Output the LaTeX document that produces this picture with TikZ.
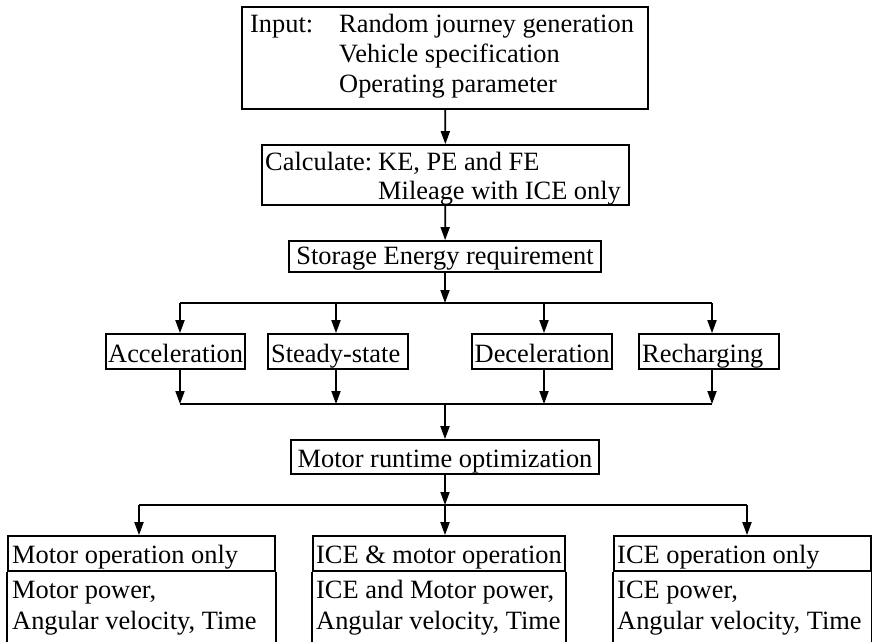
\documentclass[tikz,border=0pt]{standalone}
\usepackage{fontspec}
\setmainfont{Liberation Serif}
\usetikzlibrary{arrows.meta}
\begin{document}
\begin{tikzpicture}[x=1pt,y=-1pt,
  txt/.style={font=\fontsize{26.4pt}{30pt}\selectfont, inner sep=0pt},
  box/.style={draw, line width=1.7pt, inner sep=0pt},
  ln/.style={line width=1.8pt},
  arr/.style={line width=1.8pt, -{Triangle[length=13pt,width=9pt]}}]
\useasboundingbox (0,0) rectangle (872,641);
% boxes
\node[box, minimum width=406pt, minimum height=102pt] (top) at (445,58) {};
\node[box, minimum width=367pt, minimum height=60pt] (calc) at (445.5,175) {};
\node[box, minimum width=312pt, minimum height=31pt] (stor) at (445,256.5) {};
\node[box, minimum width=139pt, minimum height=35pt] (acc) at (175.5,351.5) {};
\node[box, minimum width=140pt, minimum height=35pt] (ste) at (338,351.5) {};
\node[box, minimum width=140pt, minimum height=35pt] (dec) at (542,351.5) {};
\node[box, minimum width=140pt, minimum height=35pt] (rec) at (709,351.5) {};
\node[box, minimum width=308pt, minimum height=34pt] (mot) at (445,457) {};
\node[box, minimum width=267pt, minimum height=35pt] (h1) at (141.5,553.5) {};
\node[box, minimum width=252pt, minimum height=35pt] (h2) at (439,553.5) {};
\node[box, minimum width=257pt, minimum height=35pt] (h3) at (742.5,553.5) {};
\draw[box] (h1.south west) -- ++(0,75);
\draw[box] (h1.south east) -- ++(0,75);
\draw[box] (h2.south west) -- ++(0,75);
\draw[box] (h2.south east) -- ++(0,75);
\draw[box] (h3.south west) -- ++(0,75);
\draw[box] (h3.south east) -- ++(0,75);
% texts
\node[txt, anchor=base west] (t1) at (250,32) {Input:};
\node[txt, anchor=base west] (t2) at (339,32) {Random journey generation};
\node[txt, anchor=base west] (t3) at (339,62) {Vehicle specification};
\node[txt, anchor=base west] (t4) at (339,92) {Operating parameter};
\node[txt, anchor=base west] (c1) at (265,170) {Calculate:};
\node[txt, anchor=base west] (c2) at (378,170) {KE, PE and FE};
\node[txt, anchor=base west] (c3) at (378,199) {Mileage with ICE only};
\node[txt, anchor=base] (s1) at (445,264) {Storage Energy requirement};
\node[txt, anchor=base west] (m1) at (108,362) {Acceleration};
\node[txt, anchor=base west] (m2) at (271,362) {Steady-state};
\node[txt, anchor=base west] (m3) at (474.5,362) {Deceleration};
\node[txt, anchor=base west] (m4) at (642,362) {Recharging};
\node[txt, anchor=base] (o1) at (445,467) {Motor runtime optimization};
\node[txt, anchor=base west] (a1) at (12,563) {Motor operation only};
\node[txt, anchor=base west] (a2) at (12,598) {Motor power,};
\node[txt, anchor=base west] (a3) at (12,629) {Angular velocity, Time};
\node[txt, anchor=base west] (b1t) at (316,563) {ICE \& motor operation};
\node[txt, anchor=base west] (b2t) at (316,598) {ICE and Motor power,};
\node[txt, anchor=base west] (b3t) at (316,629) {Angular velocity, Time};
\node[txt, anchor=base west] (d1) at (617,563) {ICE operation only};
\node[txt, anchor=base west] (d2) at (617,598) {ICE power,};
\node[txt, anchor=base west] (d3) at (617,629) {Angular velocity, Time};
% junctions
\coordinate (j1) at (445,303);
\coordinate (p1) at (180,303);
\coordinate (p2) at (336,303);
\coordinate (p3) at (544,303);
\coordinate (p4) at (712,303);
\coordinate (j2) at (445,404);
\coordinate (j3) at (445,505);
\coordinate (q1) at (139,505);
\coordinate (q3) at (747,505);
% connectors
\draw[arr] (top) -- (calc);
\draw[arr] (calc) -- (stor);
\draw[arr] (stor) -- (j1);
\draw[ln] (p1) -- (p4);
\draw[arr] (p1) -- (p1 |- acc.north);
\draw[arr] (p2) -- (p2 |- ste.north);
\draw[arr] (p3) -- (p3 |- dec.north);
\draw[arr] (p4) -- (p4 |- rec.north);
\draw[arr] (p1 |- acc.south) -- (p1 |- j2);
\draw[arr] (p2 |- ste.south) -- (p2 |- j2);
\draw[arr] (p3 |- dec.south) -- (p3 |- j2);
\draw[arr] (p4 |- rec.south) -- (p4 |- j2);
\draw[ln] (p1 |- j2) -- (p4 |- j2);
\draw[arr] (j2) -- (mot);
\draw[arr] (mot) -- (j3);
\draw[ln] (q1) -- (q3);
\draw[arr] (q1) -- (q1 |- h1.north);
\draw[arr] (j3) -- (j3 |- h2.north);
\draw[arr] (q3) -- (q3 |- h3.north);
\end{tikzpicture}
\end{document}
